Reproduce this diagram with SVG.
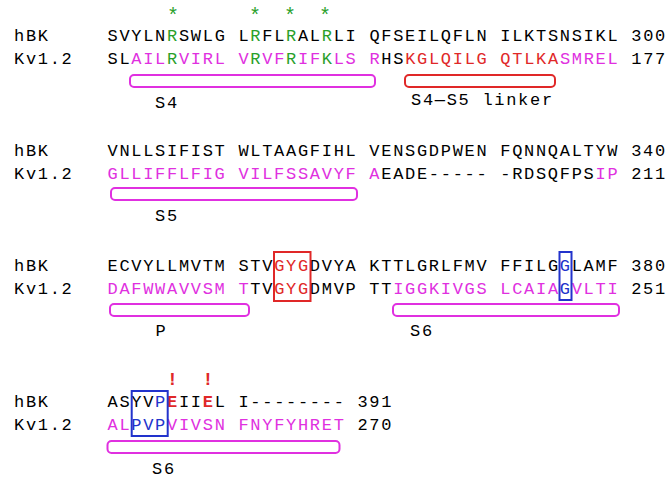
<svg xmlns="http://www.w3.org/2000/svg" width="666" height="480" viewBox="0 0 666 480">
<style>
text{font-family:"Liberation Mono","Courier New",monospace;font-size:17px;letter-spacing:1.7px;fill:#000;white-space:pre}
.m{fill:#e030e0}.g{fill:#2aa02a}.r{fill:#e02828}.b{fill:#2233cc}
.bx{fill:none;stroke-width:2}
.bm{stroke:#e030e0}.br{stroke:#e02828}.bb{stroke:#2233cc}
.star{fill:#2aa02a;font-size:20px;letter-spacing:0;text-anchor:middle}
.excl{fill:#e02828;font-size:18px;font-weight:bold;letter-spacing:0;text-anchor:middle}
</style>
<g id="block1">
<text class="star" x="173" y="22">*</text>
<text class="star" x="255" y="22">*</text>
<text class="star" x="290" y="22">*</text>
<text class="star" x="325" y="22">*</text>
<text x="14" y="41">hBK</text>
<text x="14" y="64">Kv1.2</text>
<text x="107.5" y="41">SVYLN<tspan class="g">R</tspan>SWLG L<tspan class="g">R</tspan>FL<tspan class="g">R</tspan>AL<tspan class="g">R</tspan>LI QFSEILQFLN ILKTSNSIKL 300</text>
<text x="107.5" y="64">SL<tspan class="m">AIL</tspan><tspan class="g">R</tspan><tspan class="m">VIRL</tspan> <tspan class="m">V</tspan><tspan class="g">R</tspan><tspan class="m">VF</tspan><tspan class="g">R</tspan><tspan class="m">IF</tspan><tspan class="g">K</tspan><tspan class="m">LS</tspan> <tspan class="m">R</tspan>HS<tspan class="r">KGLQILG</tspan> <tspan class="r">QTLKA</tspan><tspan class="m">SMREL</tspan> 177</text>
<rect class="bx bm" x="130" y="75" width="245" height="12" rx="4"/>
<rect class="bx br" x="405" y="75" width="150" height="12" rx="4"/>
<text x="155" y="108">S4</text>
<text x="411" y="105">S4—S5 linker</text>
</g>
<g id="block2">
<text x="14" y="156">hBK</text>
<text x="14" y="179">Kv1.2</text>
<text x="107.5" y="156">VNLLSIFIST WLTAAGFIHL VENSGDPWEN FQNNQALTYW 340</text>
<text x="107.5" y="179"><tspan class="m">GLLIFFLFIG VILFSSAVYF A</tspan>EADE----- -RDSQFPS<tspan class="m">IP</tspan> 211</text>
<rect class="bx bm" x="111" y="188" width="246" height="12" rx="4"/>
<text x="155" y="221">S5</text>
</g>
<g id="block3">
<text x="14" y="271">hBK</text>
<text x="14" y="294">Kv1.2</text>
<text x="107.5" y="271">ECVYLLMVTM STV<tspan class="r">GYG</tspan>DVYA KTTLGRLFMV FFILG<tspan class="b">G</tspan>LAMF 380</text>
<text x="107.5" y="294"><tspan class="m">DAFWWAVVSM T</tspan>TV<tspan class="r">GYG</tspan>DMVP TT<tspan class="m">IGGKIVGS LCAIA</tspan><tspan class="b">G</tspan><tspan class="m">VLTI</tspan> 251</text>
<rect class="bx br" x="274" y="252" width="36.5" height="49"/>
<rect class="bx bb" x="559.5" y="252" width="12" height="48"/>
<rect class="bx bm" x="110" y="304" width="139" height="12" rx="4"/>
<rect class="bx bm" x="393" y="304" width="226" height="12" rx="4"/>
<text x="155.5" y="336">P</text>
<text x="410" y="336">S6</text>
</g>
<g id="block4">
<text class="excl" x="172.5" y="385">!</text>
<text class="excl" x="208" y="385">!</text>
<text x="14" y="407">hBK</text>
<text x="14" y="430">Kv1.2</text>
<text x="107.5" y="407">ASYV<tspan class="b">P</tspan><tspan class="r" font-weight="bold">E</tspan>II<tspan class="r" font-weight="bold">E</tspan>L I-------- 391</text>
<text x="107.5" y="430"><tspan class="m">AL</tspan><tspan class="b">PVP</tspan><tspan class="m">VIVSN FNYFYHRET</tspan> 270</text>
<rect class="bx bb" x="131.7" y="391" width="36" height="45"/>
<rect class="bx bm" x="107.5" y="441" width="232" height="12" rx="4"/>
<text x="152" y="474">S6</text>
</g>
</svg>
